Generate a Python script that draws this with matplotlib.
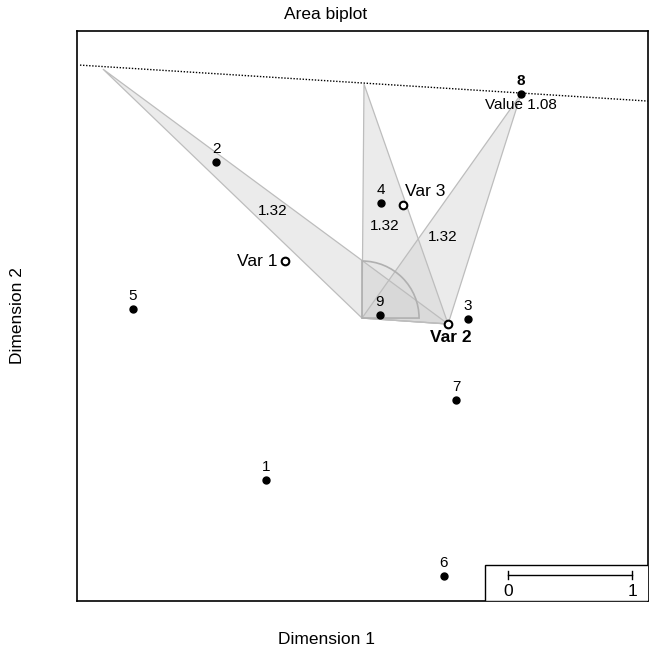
# Area biplot - recreated with matplotlib
import numpy as np
import matplotlib.pyplot as plt
from matplotlib.patches import Polygon, Wedge, Rectangle

plt.rcParams['font.family'] = ['Liberation Sans', 'DejaVu Sans']

# sample points (biplot coordinates)
samp_labels = ['1', '2', '3', '4', '5', '6', '7', '8', '9']
samp_x = [-0.774, -1.177, 0.855, 0.153, -1.847, 0.661, 0.758, 1.282, 0.145]
samp_y = [-1.306, 1.258, -0.008, 0.927, 0.073, -2.081, -0.661, 1.806, 0.024]

# variable points
var_labels = ['Var 1', 'Var 2', 'Var 3']
var_x = [-0.621, 0.694, 0.331]
var_y = [0.460, -0.048, 0.911]

# triangle apexes on the dotted line (last one is sample 8)
apex_x = [-2.089, 0.016, 1.282]
apex_y = [2.008, 1.887, 1.806]
tri_values = ['1.32', '1.32', '1.32']
tri_lab_x = [-0.718, 0.185, 0.653]
tri_lab_y = [0.863, 0.742, 0.653]

# dotted line ends
dot_x = [-2.274, 2.306]
dot_y = [2.040, 1.750]

pred_value = 'Value 1.08'
scale_ticks = [0, 1]

fig = plt.figure(figsize=(6.52, 6.57), dpi=100)
ax = fig.add_axes([0.1181, 0.0852, 0.8758, 0.8676])
ax.set_xlim(-2.298, 2.306)
ax.set_ylim(-2.282, 2.315)
ax.set_xticks([])
ax.set_yticks([])
for s in ax.spines.values():
    s.set_linewidth(1.2)

# triangles: origin, variable 2, apex
for i in range(3):
    pts = [[0, 0], [var_x[1], var_y[1]], [apex_x[i], apex_y[i]]]
    ax.add_patch(Polygon(pts, closed=True, facecolor='#d3d3d3', alpha=0.45,
                         edgecolor='none', zorder=1))
    ax.add_patch(Polygon(pts, closed=True, facecolor='none', edgecolor='#bdbdbd',
                         lw=0.9, zorder=1.5))
    ax.text(tri_lab_x[i], tri_lab_y[i], tri_values[i], ha='center', va='center',
            fontsize=11, zorder=4)

# right angle arc at the origin
ax.add_patch(Wedge((0, 0), 0.46, 0, 90, facecolor='#d3d3d3', alpha=0.2,
                   edgecolor='none', zorder=1))
ax.add_patch(Wedge((0, 0), 0.46, 0, 90, facecolor='none', edgecolor='#b0b0b0',
                   lw=1.2, zorder=2))

# dotted line through sample 8
ax.plot(dot_x, dot_y, ls=(0, (1, 1.2)), color='black', lw=1.0, zorder=2)

# samples
ax.plot(samp_x, samp_y, 'o', color='black', ms=5, zorder=5)
for lab, x, y in zip(samp_labels, samp_x, samp_y):
    ax.annotate(lab, (x, y), xytext=(0, 9.5), textcoords='offset points',
                ha='center', va='center', fontsize=11,
                fontweight='bold' if lab == '8' else 'normal', zorder=6)
ax.annotate(pred_value, (samp_x[7], samp_y[7]), xytext=(0, -7.5),
            textcoords='offset points', ha='center', va='center', fontsize=11, zorder=6)

# variables
ax.plot(var_x, var_y, 'o', mfc='white', mec='black', mew=1.5, ms=5.5, zorder=5)
ax.annotate(var_labels[0], (var_x[0], var_y[0]), xytext=(-5.5, 0), textcoords='offset points',
            ha='right', va='center', fontsize=12.5, zorder=6)
ax.annotate(var_labels[1], (var_x[1], var_y[1]), xytext=(2, -9.5), textcoords='offset points',
            ha='center', va='center', fontsize=12.5, fontweight='bold', zorder=6)
ax.annotate(var_labels[2], (var_x[2], var_y[2]), xytext=(1.5, 9.5), textcoords='offset points',
            ha='left', va='center', fontsize=12.5, zorder=6)

# scale bar
ax.add_patch(Rectangle((0.992, -2.282), 1.4, 0.29, facecolor='white',
                       edgecolor='black', lw=1.0, zorder=7))
sb_x0 = 1.177
sb_y = -2.073
ax.plot([sb_x0 + scale_ticks[0], sb_x0 + scale_ticks[1]], [sb_y, sb_y],
        color='black', lw=1.0, zorder=8)
for t in scale_ticks:
    ax.plot([sb_x0 + t, sb_x0 + t], [sb_y - 0.03, sb_y + 0.03], color='black',
            lw=1.0, zorder=8)
    ax.text(sb_x0 + t, -2.205, str(t), ha='center', va='center', fontsize=12.5, zorder=8)

fig.text(0.5, 1 - 15 / 657, 'Area biplot', ha='center', va='center', fontsize=12.5)
fig.text(0.5, 1 - 640 / 657, 'Dimension 1', ha='center', va='center', fontsize=12.5)
fig.text(18 / 652, 1 - 316 / 657, 'Dimension 2', ha='center', va='center',
         rotation=90, fontsize=12.5)

fig.savefig('out.png', dpi=100)
